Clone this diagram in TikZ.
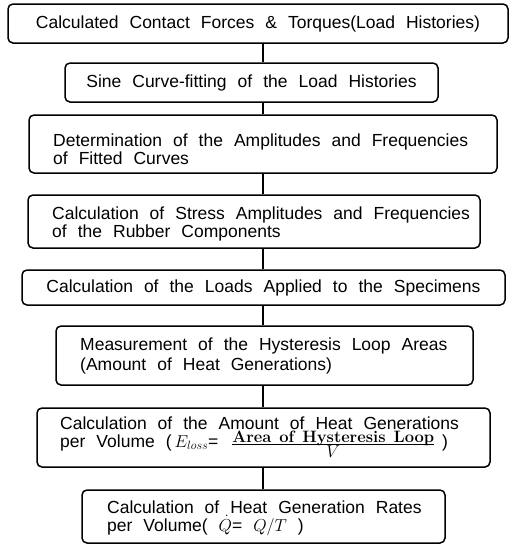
\documentclass[tikz,border=0pt]{standalone}
\usepackage{fontspec}
\newfontfamily\sansf{Liberation Sans}
\newcommand\tfont{\sansf\fontsize{17.5}{18}\selectfont\spaceskip=11pt\relax}
\newsavebox\numbox
\newcommand\hystfrac{\sbox\numbox{\fontsize{16.5}{16.5}\selectfont\rmfamily\bfseries\spaceskip=8pt Area of Hysteresis Loop}%
\rlap{\raisebox{4.5pt}{\usebox\numbox}}%
\rlap{\raisebox{2.5pt}{\rule{\wd\numbox}{0.8pt}}}%
\rlap{\makebox[\wd\numbox]{\raisebox{-10pt}{$V$}}}%
\hspace{\wd\numbox}}
\tikzset{
  box/.style={draw, line width=1.5pt, rounded corners=5pt, inner sep=0pt, font=\tfont},
  txt/.style={inner sep=0pt, anchor=base west, font=\tfont, align=left},
  link/.style={line width=1.8pt},
}
\begin{document}
\begin{tikzpicture}[x=1pt,y=-1pt]
\useasboundingbox (0,0) rectangle (514,547);
\coordinate (spine) at (263,0);
\node[box, minimum width=500pt, minimum height=39pt] (b1) at (258,23.5) {Calculated Contact Forces \& Torques(Load Histories)};
\node[box, minimum width=373pt, minimum height=39pt] (b2) at (251.5,82.5) {Sine Curve-fitting of the Load Histories};
\node[box, minimum width=468pt, minimum height=58pt] (b3) at (263,144) {};
\node[box, minimum width=452pt, minimum height=53pt] (b4) at (254,221.5) {};
\node[box, minimum width=483pt, minimum height=35pt] (b5) at (263.5,287.5) {Calculation of the Loads Applied to the Specimens};
\node[box, minimum width=417pt, minimum height=59pt] (b6) at (264.5,355.5) {};
\node[box, minimum width=453pt, minimum height=59pt] (b7) at (263.5,437.5) {};
\node[box, minimum width=363pt, minimum height=53pt] (b8) at (263.5,516.5) {};

\node[txt] (t3) at (53,164) {Determination of the Amplitudes and Frequencies\\of Fitted Curves};
\node[txt] (t4) at (52,237) {Calculation of Stress Amplitudes and Frequencies\\of the Rubber Components};
\node[txt] (t6) at (80,370) {Measurement of the Hysteresis Loop Areas\\[2pt](Amount of Heat Generations)};
\node[txt] (t7) at (60,447) {Calculation of the Amount of Heat Generations\\[0pt]per Volume (\,$E_{loss}$=\hspace{14pt}\hystfrac\hspace{8pt})};
\node[txt] (t8) at (107,531) {Calculation of Heat Generation Rates\\per Volume( $\dot{Q}$= $Q/T$ )};

\foreach \a/\b in {b1/b2,b2/b3,b3/b4,b4/b5,b5/b6,b6/b7,b7/b8}
  \draw[link] (\a.south -| spine) -- (\b.north -| spine);
\end{tikzpicture}
\end{document}
